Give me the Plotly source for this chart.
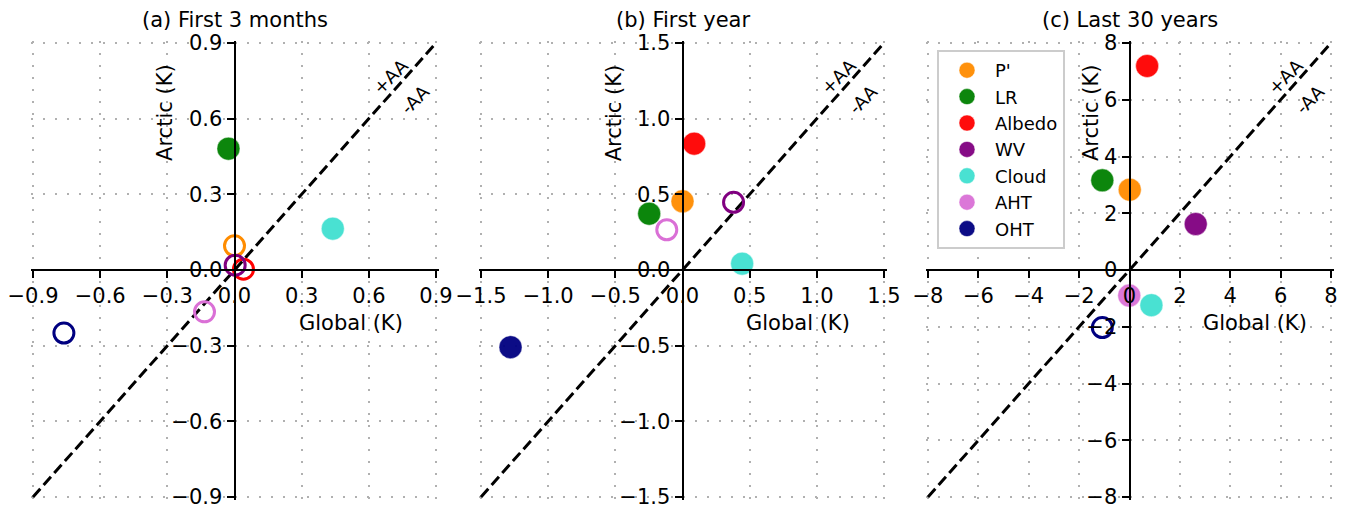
import plotly.graph_objects as go

categories = ["P'", "LR", "Albedo", "WV", "Cloud", "AHT", "OHT"]
colors = ["#FF8C00", "#008000", "#FF0000", "#800080", "#40E0D0", "#DA70D6", "#000080"]

a_global = [0.0, -0.027, 0.04, 0.003, 0.439, -0.134, -0.762]
a_arctic = [0.096, 0.481, 0.003, 0.019, 0.164, -0.166, -0.25]
a_filled = [False, True, False, False, True, False, False]

b_global = [0.0, -0.248, 0.087, 0.38, 0.444, -0.117, -1.28]
b_arctic = [0.454, 0.372, 0.835, 0.447, 0.042, 0.266, -0.51]
b_filled = [True, True, True, False, True, False, True]

c_global = [0.01, -1.08, 0.70, 2.63, 0.87, -0.01, -1.08]
c_arctic = [2.83, 3.16, 7.19, 1.62, -1.24, -0.9, -2.03]
c_filled = [True, True, True, True, True, True, False]

titles = ["(a) First 3 months", "(b) First year", "(c) Last 30 years"]
limits = [0.9, 1.5, 8.0]
tickvals_a = [-0.9, -0.6, -0.3, 0.0, 0.3, 0.6, 0.9]
ticktext_a = ["\u22120.9", "\u22120.6", "\u22120.3", "0.0", "0.3", "0.6", "0.9"]
tickvals_b = [-1.5, -1.0, -0.5, 0.0, 0.5, 1.0, 1.5]
ticktext_b = ["\u22121.5", "\u22121.0", "\u22120.5", "0.0", "0.5", "1.0", "1.5"]
tickvals_c = [-8, -6, -4, -2, 0, 2, 4, 6, 8]
ticktext_c = ["\u22128", "\u22126", "\u22124", "\u22122", "0", "2", "4", "6", "8"]

W, H = 1347, 512
OFF = 8      # page body margin in the browser
PADPX = 2.5  # extra pixels so the edge gridlines are kept
FONT = "DejaVu Sans"
panel_px = [(33, 436), (481, 884), (928, 1331)]
ytop_px, ybot_px = 43, 497
half_h = (ybot_px - ytop_px) / 2
ydom = [1 - (ybot_px - OFF + PADPX) / H, 1 - (ytop_px - OFF - PADPX) / H]
ymid = (ydom[0] + ydom[1]) / 2

panels = [
    (a_global, a_arctic, a_filled, tickvals_a, ticktext_a),
    (b_global, b_arctic, b_filled, tickvals_b, ticktext_b),
    (c_global, c_arctic, c_filled, tickvals_c, ticktext_c),
]
arctic_label_x = [0.33, 0.331, 0.404]
global_label_x = [0.918, 0.916, 0.94]

fig = go.Figure()
annotations = []
for i, (gx, ay, filled, tv, tt) in enumerate(panels):
    n = "" if i == 0 else str(i + 1)
    xa, ya = "x" + n, "y" + n
    lim = limits[i]
    half_w = (panel_px[i][1] - panel_px[i][0]) / 2
    xlim = lim * (1 + PADPX / half_w)
    ylim = lim * (1 + PADPX / half_h)
    xdom = [(panel_px[i][0] - OFF - PADPX) / W, (panel_px[i][1] - OFF + PADPX) / W]
    xmid = (xdom[0] + xdom[1]) / 2
    axis_common = dict(
        tickvals=tv, ticktext=tt, showline=True, linecolor="black",
        linewidth=2, ticks="outside", ticklen=7, tickwidth=2, tickcolor="black",
        showgrid=True, gridcolor="#b0b0b0", gridwidth=1.5, griddash="2px,10px",
        zeroline=False, tickfont=dict(family=FONT, size=21, color="black"),
        anchor="free", fixedrange=True, automargin=False, ticklabeloverflow="allow",
    )
    fig.update_layout(**{
        "xaxis" + n: dict(domain=xdom, position=ymid, range=[-xlim, xlim], **axis_common),
        "yaxis" + n: dict(domain=ydom, position=xmid, range=[-ylim, ylim], **axis_common),
    })
    diag = [-lim, lim]
    fig.add_trace(go.Scatter(x=diag, y=diag, mode="lines", xaxis=xa, yaxis=ya,
                             line=dict(color="black", width=3, dash="11px,5px"),
                             showlegend=False, hoverinfo="skip"))
    for k in range(len(categories)):
        if filled[k]:
            marker = dict(symbol="circle", size=23, color=colors[k], opacity=0.95,
                          line=dict(color="rgba(255,255,255,0.45)", width=1))
        else:
            marker = dict(symbol="circle-open", size=20, color=colors[k],
                          line=dict(color=colors[k], width=3))
        fig.add_trace(go.Scatter(x=[gx[k]], y=[ay[k]], mode="markers", xaxis=xa, yaxis=ya,
                                 marker=marker, showlegend=False, name=categories[k]))
    xd = "x" + n + " domain"
    yd = "y" + n + " domain"
    annotations += [
        dict(text=titles[i], xref=xd, yref="paper", x=0.5, y=1 - (20 - OFF) / H, showarrow=False,
             font=dict(family=FONT, size=21, color="black"), xanchor="center", yanchor="middle"),
        dict(text="Global (K)", xref=xd, yref=yd, x=global_label_x[i], y=0.385, showarrow=False,
             font=dict(family=FONT, size=21, color="black"), xanchor="right", yanchor="middle"),
        dict(text="Arctic (K)", xref=xd, yref=yd, x=arctic_label_x[i], y=0.8425, showarrow=False,
             textangle=-90, font=dict(family=FONT, size=21, color="black"),
             xanchor="center", yanchor="middle"),
        dict(text="+AA", xref=xd, yref=yd, x=0.882, y=0.922, xanchor="center", yanchor="middle",
             showarrow=False, textangle=-45, font=dict(family=FONT, size=18, color="black")),
        dict(text="-AA", xref=xd, yref=yd, x=0.942, y=0.872, xanchor="center", yanchor="middle",
             showarrow=False, textangle=-45, font=dict(family=FONT, size=18, color="black")),
    ]

for k in range(len(categories)):
    fig.add_trace(go.Scatter(x=[None], y=[None], mode="markers", xaxis="x3", yaxis="y3",
                             name=categories[k], showlegend=True,
                             marker=dict(symbol="circle", size=25, color=colors[k], opacity=0.95,
                                         line=dict(color="rgba(255,255,255,0.45)", width=1))))

fig.update_layout(
    width=W, height=H, margin=dict(l=0, r=0, t=0, b=0, autoexpand=False),
    paper_bgcolor="white", plot_bgcolor="white",
    annotations=annotations,
    legend=dict(x=(937 - OFF) / W, y=1 - (50 - OFF) / H, xanchor="left", yanchor="top",
                bordercolor="#cccccc", borderwidth=2, bgcolor="white",
                font=dict(family=FONT, size=18, color="black"), itemwidth=46,
                tracegroupgap=0),
    showlegend=True,
)

fig.write_html("out.html")
